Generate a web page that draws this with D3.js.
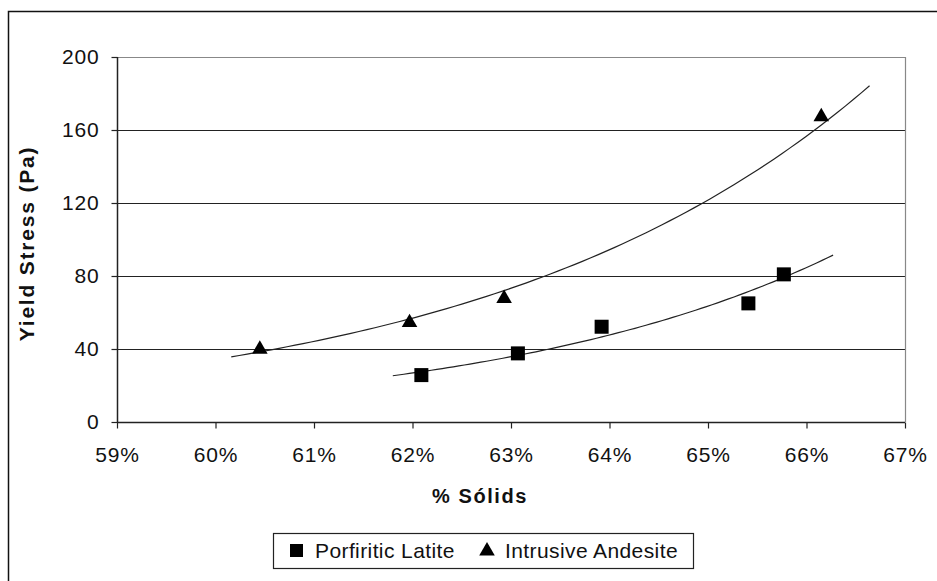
<!DOCTYPE html>
<html>
<head>
<meta charset="utf-8">
<script src="https://cdn.jsdelivr.net/npm/d3@7"></script>
<style>
  html, body { margin: 0; padding: 0; background: #fff; }
  svg { display: block; font-family: "Liberation Sans", Arial, sans-serif; }
</style>
</head>
<body>
<svg id="chart" width="937" height="581"></svg>
<script>
// Solids fraction vs. yield stress for two ore types
const latiteSolids = [0.6209, 0.6307, 0.6392, 0.6541, 0.6577];
const latiteStress = [25.7, 37.6, 52.2, 65.0, 80.9];
const andesiteSolids = [0.6045, 0.6197, 0.6293, 0.6615];
const andesiteStress = [40.4, 55.0, 68.2, 167.8];

// Extent of each exponential trendline
const latiteTrendRange = [0.6180, 0.6627];
const andesiteTrendRange = [0.6016, 0.6664];

const xTicks = [0.59, 0.60, 0.61, 0.62, 0.63, 0.64, 0.65, 0.66, 0.67];
const yTicks = [0, 40, 80, 120, 160, 200];
const seriesNames = ["Porfiritic Latite", "Intrusive Andesite"];

const svg = d3.select("#chart");
const W = 937, H = 581;
const plot = { left: 117, right: 905, top: 57, bottom: 422 };

// Chart frame (extends past the window on the right and bottom)
svg.append("rect")
  .attr("x", 8.5).attr("y", 11.5)
  .attr("width", W + 20).attr("height", H + 20)
  .attr("fill", "#fff").attr("stroke", "#111").attr("stroke-width", 1.5);

const x = d3.scaleLinear().domain([0.59, 0.67]).range([plot.left, plot.right]);
const y = d3.scaleLinear().domain([0, 200]).range([plot.bottom, plot.top]);

// Horizontal gridlines
svg.append("g").selectAll("line")
  .data(yTicks.filter(v => v > 0 && v < 200))
  .join("line")
  .attr("x1", plot.left).attr("x2", plot.right)
  .attr("y1", d => Math.round(y(d)) + 0.5).attr("y2", d => Math.round(y(d)) + 0.5)
  .attr("stroke", "#222").attr("stroke-width", 1.2);

// Top and right edges of the plot area
svg.append("path")
  .attr("d", `M${plot.left},${plot.top + 0.5}H${plot.right + 0.5}V${plot.bottom}`)
  .attr("fill", "none").attr("stroke", "#888").attr("stroke-width", 1.2);

// Axes
const yAxis = d3.axisLeft(y).tickValues(yTicks).tickSize(6).tickPadding(12).tickFormat(d3.format("d"));
const xAxis = d3.axisBottom(x).tickValues(xTicks).tickSize(6).tickPadding(19).tickFormat(d3.format(".0%"));

const gy = svg.append("g").attr("transform", `translate(${plot.left + 0.5},0)`).call(yAxis);
const gx = svg.append("g").attr("transform", `translate(0,${plot.bottom + 0.5})`).call(xAxis);

[gx, gy].forEach(g => {
  g.select(".domain").attr("stroke", "#222").attr("stroke-width", 1.5);
  g.selectAll(".tick line").attr("stroke", "#222").attr("stroke-width", 1.2);
  g.selectAll(".tick text")
    .attr("fill", "#111")
    .style("font-size", "21px")
    .style("letter-spacing", "0.8px");
});
// x-axis ticks sit below the axis only
gx.select(".domain").attr("d", `M${plot.left},0H${plot.right}`);
gx.selectAll(".tick text").attr("dy", "0.71em");
gy.select(".domain").attr("d", `M0,${plot.top}V${plot.bottom}`);
gy.selectAll(".tick line").attr("x1", 0).attr("x2", -6);

// Axis titles
svg.append("text")
  .attr("x", 480).attr("y", 503)
  .attr("text-anchor", "middle")
  .style("font-size", "20px").style("font-weight", "bold").style("letter-spacing", "1.6px")
  .attr("fill", "#111")
  .text("% Sólids");

svg.append("text")
  .attr("transform", `translate(34,${(plot.top + plot.bottom) / 2 + 4}) rotate(-90)`)
  .attr("text-anchor", "middle")
  .style("font-size", "21px").style("font-weight", "bold").style("letter-spacing", "1.8px")
  .attr("fill", "#111")
  .text("Yield Stress (Pa)");

// Exponential least-squares trendline (fit on ln y)
function expFit(xs, ys) {
  const n = xs.length;
  const ls = ys.map(Math.log);
  const mx = d3.mean(xs), ml = d3.mean(ls);
  let sxy = 0, sxx = 0;
  for (let i = 0; i < n; i++) {
    sxy += (xs[i] - mx) * (ls[i] - ml);
    sxx += (xs[i] - mx) * (xs[i] - mx);
  }
  const b = sxy / sxx;
  const a = ml - b * mx;
  return v => Math.exp(a + b * v);
}

const line = d3.line().x(d => x(d[0])).y(d => y(d[1]));

function drawTrend(xs, ys, range) {
  const f = expFit(xs, ys);
  const pts = d3.range(0, 81).map(i => {
    const v = range[0] + (range[1] - range[0]) * i / 80;
    return [v, f(v)];
  });
  svg.append("path")
    .attr("d", line(pts))
    .attr("fill", "none").attr("stroke", "#222").attr("stroke-width", 1.2);
}

drawTrend(andesiteSolids, andesiteStress, andesiteTrendRange);
drawTrend(latiteSolids, latiteStress, latiteTrendRange);

// Markers
const sq = 14;
svg.append("g").selectAll("rect")
  .data(d3.zip(latiteSolids, latiteStress))
  .join("rect")
  .attr("x", d => x(d[0]) - sq / 2).attr("y", d => y(d[1]) - sq / 2)
  .attr("width", sq).attr("height", sq)
  .attr("fill", "#000");

const tri = d3.symbol().type(d3.symbolTriangle).size(105);
svg.append("g").selectAll("path")
  .data(d3.zip(andesiteSolids, andesiteStress))
  .join("path")
  .attr("transform", d => `translate(${x(d[0])},${y(d[1]) + 1})`)
  .attr("d", tri)
  .attr("fill", "#000");

// Legend
const lg = svg.append("g");
lg.append("rect")
  .attr("x", 273.5).attr("y", 533.5).attr("width", 420).attr("height", 35)
  .attr("fill", "#fff").attr("stroke", "#222").attr("stroke-width", 1.2);
lg.append("rect").attr("x", 290).attr("y", 544).attr("width", 13).attr("height", 13).attr("fill", "#000");
lg.append("text").attr("x", 315).attr("y", 558)
  .style("font-size", "21px").style("letter-spacing", "0.4px").attr("fill", "#111").text(seriesNames[0]);
lg.append("path").attr("transform", "translate(487,551)").attr("d", tri).attr("fill", "#000");
lg.append("text").attr("x", 505).attr("y", 558)
  .style("font-size", "21px").style("letter-spacing", "0.4px").attr("fill", "#111").text(seriesNames[1]);
</script>
</body>
</html>
